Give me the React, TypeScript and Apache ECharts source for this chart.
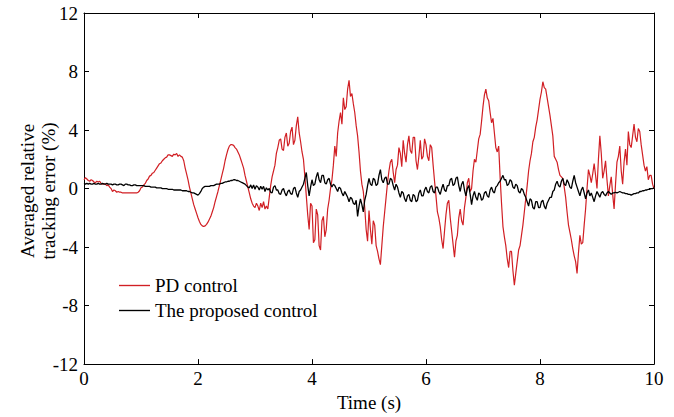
import React, { useEffect, useRef } from "react";
import * as echarts from "echarts";

const DT = 0.025;
const X_TICKS = [0, 2, 4, 6, 8, 10];
const Y_TICKS = [-12, -8, -4, 0, 4, 8, 12];
const SERIES_NAMES = ["PD control", "The proposed control"];

// PD control, read every 0.025 s from t = 0 to t = 10 (one row = 0.25 s)
const pdControl = [
  0.6, 0.75, 0.65, 0.55, 0.5, 0.6, 0.55, 0.45, 0.4, 0.5,
  0.45, 0.5, 0.35, 0.3, 0.35, 0.3, 0.2, 0.25, 0.1, 0.0,
  -0.2, -0.1, -0.15, -0.25, -0.2, -0.25, -0.25, -0.3, -0.3, -0.3,
  -0.3, -0.3, -0.3, -0.3, -0.3, -0.3, -0.3, -0.3, -0.25, -0.15,
  0.05, 0.1, 0.25, 0.35, 0.55, 0.65, 0.85, 0.9, 1.05, 1.1,
  1.25, 1.4, 1.55, 1.7, 1.75, 1.9, 2.0, 2.1, 2.15, 2.3,
  2.3, 2.25, 2.2, 2.35, 2.3, 2.4, 2.2, 2.3, 2.2, 2.15,
  1.9, 1.4, 1.0, 0.6, 0.1, -0.3, -0.7, -1.1, -1.4, -1.7,
  -2.0, -2.25, -2.45, -2.55, -2.6, -2.55, -2.45, -2.3, -2.1, -1.9,
  -1.6, -1.3, -0.9, -0.55, -0.2, 0.2, 0.6, 1.0, 1.4, 1.9,
  2.3, 2.65, 2.9, 3.0, 3.0, 2.95, 2.8, 2.7, 2.5, 2.3,
  2.0, 1.7, 1.4, 0.9, 0.5, 0.1, -0.3, -0.7, -1.0, -1.2,
  -1.3, -1.0, -1.2, -1.5, -1.0, -1.3, -0.9, -1.4, -1.2, -1.4,
  -0.6, 0.2, 0.8, 1.2, 1.6, 2.4, 2.8, 3.3, 3.4, 2.7,
  2.6, 3.5, 3.8, 2.9, 3.1, 3.9, 4.2, 3.0, 3.3, 4.3,
  4.9, 3.8, 3.2, 2.5, 2.0, 0.8, -0.5, -1.8, -2.8, -1.0,
  -1.2, -3.7, -3.5, -1.4, -1.8, -3.9, -4.2, -2.2, -1.9, -3.3,
  -2.8, -1.4, -0.8, 0.0, 0.6, 1.6, 2.9, 2.2, 3.8, 4.6,
  5.2, 4.4, 6.2, 5.4, 5.6, 6.8, 7.4, 6.3, 6.5, 5.8,
  5.2, 4.3, 3.6, 2.5, 1.2, 0.3, -0.2, -1.3, -2.8, -3.6,
  -1.5, -2.8, -3.8, -2.2, -2.5, -3.9, -4.3, -4.8, -5.2, -3.9,
  -2.6, -1.6, -0.6, 0.4, 1.2, 1.8, 2.0, 1.1, 0.4, 1.3,
  1.6, 2.8, 2.4, 1.5, 3.3, 2.4, 1.8, 3.0, 3.6, 2.6,
  2.4, 3.5, 3.5, 1.9, 1.3, 2.2, 3.3, 2.0, 2.2, 3.4,
  3.0, 2.2, 1.9, 3.0, 2.8, 1.6, 0.5, -0.5, -1.6, -2.0,
  -2.6, -3.5, -4.1, -2.9, -1.8, -1.0, -0.8, -2.0, -2.9, -3.8,
  -4.7, -3.6, -3.2, -2.0, -1.4, -2.2, -2.5, -1.3, -0.6, 0.4,
  0.7, -0.2, 0.0, 1.2, 2.0, 1.8, 2.6, 3.4, 3.7, 4.6,
  5.6, 6.4, 6.8, 6.2, 6.0, 5.2, 4.5, 4.8, 3.8, 2.8,
  2.5, 2.9, 0.8, -1.0, -2.6, -3.3, -3.9, -4.8, -5.4, -4.3,
  -4.3, -5.6, -6.6, -5.8, -5.0, -4.2, -3.9, -3.2, -2.5, -1.6,
  -0.7, 0.2, 1.2, 1.9, 2.4, 3.2, 3.5, 4.2, 4.7, 5.4,
  6.1, 6.6, 7.3, 6.9, 6.8, 6.2, 5.6, 5.0, 4.3, 3.6,
  2.2, 2.0, 1.8, 1.3, 0.9, 0.8, 0.7, 0.1, -0.6, -1.6,
  -2.5, -3.0, -3.5, -4.1, -4.6, -5.0, -5.8, -4.4, -3.2, -3.8,
  -3.7, -2.5, -1.4, 0.0, 1.3, 0.9, 0.4, 1.0, 1.7, 0.9,
  0.0, 2.0, 3.6, 2.4, 0.7, 1.2, 1.9, 0.6, -0.5, 0.2,
  0.8, -0.4, -1.4, 0.3, 1.8, 2.2, 2.9, 1.2, 0.3, 1.8,
  2.7, 1.6, 3.9, 3.0, 2.8, 3.6, 4.4, 3.5, 3.2, 4.1,
  3.9, 3.0, 2.3, 1.6, 1.2, 1.5, 0.6, 0.9, 0.9, 0.3,
  0.0,
];

// The proposed control, read every 0.025 s from t = 0 to t = 10 (one row = 0.25 s)
const proposedControl = [
  0.35, 0.3, 0.35, 0.3, 0.35, 0.3, 0.3, 0.35, 0.3, 0.3,
  0.35, 0.3, 0.3, 0.35, 0.3, 0.3, 0.35, 0.3, 0.3, 0.3,
  0.25, 0.3, 0.3, 0.25, 0.25, 0.3, 0.3, 0.25, 0.2, 0.3,
  0.3, 0.25, 0.25, 0.2, 0.2, 0.25, 0.25, 0.2, 0.2, 0.2,
  0.2, 0.2, 0.2, 0.15, 0.15, 0.15, 0.15, 0.1, 0.1, 0.1,
  0.1, 0.05, 0.05, 0.05, 0.05, 0.0, 0.0, 0.0, 0.0, -0.05,
  -0.05, -0.05, -0.05, -0.1, -0.1, -0.1, -0.1, -0.1, -0.1, -0.15,
  -0.15, -0.15, -0.15, -0.2, -0.2, -0.25, -0.3, -0.3, -0.35, -0.4,
  -0.45, -0.35, -0.2, 0.0, 0.1, 0.15, 0.15, 0.15, 0.15, 0.2,
  0.2, 0.2, 0.25, 0.3, 0.3, 0.3, 0.35, 0.35, 0.4, 0.45,
  0.45, 0.5, 0.5, 0.55, 0.55, 0.6, 0.6, 0.55, 0.55, 0.5,
  0.45, 0.4, 0.35, 0.3, 0.2, 0.1, 0.05, 0.25, 0.0, 0.25,
  -0.05, 0.2, 0.1, -0.1, 0.15, -0.05, 0.15, -0.2, 0.05, -0.1,
  0.0, -0.25, -0.3, 0.1, 0.2, -0.1, -0.1, -0.35, -0.4, -0.1,
  0.0, -0.3, -0.5, -0.2, -0.1, -0.35, -0.4, 0.0, 0.1, -0.3,
  -0.6, -0.2, -0.1, 0.1, 0.3, 0.7, 1.1, 0.2, -0.5, 0.1,
  0.6, 0.2, 0.3, 0.8, 1.1, 0.6, 0.4, 0.9, 0.9, 0.4,
  0.3, 0.6, 0.7, 0.3, 0.1, 0.3, 0.2, 0.0, -0.2, 0.1,
  0.0, -0.3, -0.5, -0.2, -0.4, -0.6, -0.9, -0.6, -0.7, -1.0,
  -1.1, -0.8, -1.9, -1.2, -0.7, -1.1, -1.6, -0.8, -0.4, 0.2,
  0.7, 0.3, 0.2, 0.7, 0.6, 0.2, 0.3, 0.9, 1.3, 0.6,
  0.4, 0.7, 0.8, 0.3, 0.3, 0.7, 0.6, 0.2, -0.1, 0.3,
  0.1, -0.3, -0.6, -0.2, -0.3, -0.7, -0.9, -0.5, -0.4, -0.8,
  -0.9, -0.4, -0.5, -0.9, -0.8, -0.3, -0.1, -0.5, -0.5, -0.1,
  0.1, -0.2, -0.3, 0.1, 0.2, -0.2, -0.3, 0.1, 0.1, -0.2,
  -0.4, 0.0, 0.3, -0.1, -0.2, 0.2, 0.2, 0.6, 0.7, 0.2,
  0.3, 0.7, 0.8, 0.2, -0.2, 0.3, 0.5, -0.1, -0.5, 0.0,
  0.2, -0.4, -1.1, -0.5, -0.2, -0.6, -0.8, -0.3, -0.4, -0.8,
  -0.7, -0.3, -0.2, -0.5, -0.6, -0.1, 0.1, -0.2, -0.3, 0.1,
  0.2, 0.4, 0.5, 0.7, 0.9, 0.6, 0.6, 0.2, 0.3, 0.6,
  0.5, 0.1, 0.0, 0.3, 0.2, -0.2, -0.3, 0.0, -0.1, -0.4,
  -0.6, -0.9, -1.2, -0.7, -0.8, -1.3, -1.4, -0.9, -0.9, -1.3,
  -1.3, -0.9, -0.8, -1.2, -1.4, -1.0, -0.8, -0.6, -0.6, -0.2,
  -0.1, 0.3, 0.5, 0.2, 0.1, 0.5, 0.7, 0.3, 0.2, 0.6,
  0.4, 0.1, 0.0, 0.5, 0.9, 0.4, 0.1, -0.2, -0.5, -0.1,
  0.1, -0.3, -0.7, -0.3, -0.1, -0.5, -0.3, -0.6, -0.9, -0.5,
  -0.2, -0.4, -0.6, -0.3, -0.2, -0.4, -0.5, -0.3, -0.2, -0.3,
  -0.4, -0.3, -0.3, -0.25, -0.3, -0.25, -0.2, -0.25, -0.3, -0.3,
  -0.35, -0.35, -0.4, -0.4, -0.45, -0.4, -0.35, -0.35, -0.3, -0.3,
  -0.2, -0.2, -0.15, -0.15, -0.1, -0.1, -0.05, -0.05, 0.0, 0.0,
  0.05,
];

const FONT = "Liberation Serif";
const FONT_SIZE = 19;
const RED = "#d11f24";

export default function App() {
  const ref = useRef<HTMLDivElement>(null);
  useEffect(() => {
    if (!ref.current) return;
    const chart = echarts.init(ref.current, undefined, { renderer: "svg" });
    const toPairs = (arr: number[]) => arr.map((v, i) => [+(i * DT).toFixed(3), v]);
    const axisCommon = {
      axisLine: { show: true, onZero: false, lineStyle: { color: "#000", width: 1 } },
      axisTick: { show: true, inside: true, length: 5, lineStyle: { color: "#000" } },
      splitLine: { show: false },
    };
    const labelStyle = { fontFamily: FONT, fontSize: FONT_SIZE, color: "#000" };
    chart.setOption({
      animation: false,
      backgroundColor: "#fff",
      textStyle: { fontFamily: FONT },
      grid: { left: 84, right: 20, top: 13, bottom: 50, containLabel: false },
      legend: {
        data: SERIES_NAMES.map((name) => ({ name, icon: "path://M0,0 L32,0 L32,1.4 L0,1.4 Z" })),
        orient: "vertical",
        left: 119,
        top: 276,
        padding: 0,
        itemWidth: 31,
        itemHeight: 19,
        itemGap: 6,
        itemStyle: { borderWidth: 0 },
        textStyle: { ...labelStyle },
      },
      xAxis: [
        {
          type: "value",
          min: X_TICKS[0],
          max: X_TICKS[X_TICKS.length - 1],
          interval: 2,
          ...axisCommon,
          axisLabel: { ...labelStyle, margin: 5 },
          name: "Time (s)",
          nameLocation: "middle",
          nameGap: 25,
          nameTextStyle: { ...labelStyle },
        },
        {
          type: "value",
          position: "top",
          min: X_TICKS[0],
          max: X_TICKS[X_TICKS.length - 1],
          interval: 2,
          ...axisCommon,
          axisLabel: { show: false },
        },
      ],
      yAxis: [
        {
          type: "value",
          position: "left",
          min: Y_TICKS[0],
          max: Y_TICKS[Y_TICKS.length - 1],
          interval: 4,
          ...axisCommon,
          axisLabel: { ...labelStyle, margin: 6 },
        },
        {
          type: "value",
          position: "right",
          min: Y_TICKS[0],
          max: Y_TICKS[Y_TICKS.length - 1],
          interval: 4,
          ...axisCommon,
          axisLabel: { show: false },
        },
      ],
      graphic: [
        {
          type: "text",
          x: 38,
          y: 191,
          rotation: Math.PI / 2,
          style: {
            text: "Averaged relative\ntracking error (%)",
            fontFamily: FONT,
            fontSize: FONT_SIZE,
            lineHeight: 21,
            fill: "#000",
            align: "center",
            verticalAlign: "middle",
          },
        },
      ],
      series: [
        {
          name: SERIES_NAMES[0],
          type: "line",
          data: toPairs(pdControl),
          symbol: "none",
          lineStyle: { color: RED, width: 1.2 },
          itemStyle: { color: RED },
          z: 2,
        },
        {
          name: SERIES_NAMES[1],
          type: "line",
          data: toPairs(proposedControl),
          symbol: "none",
          lineStyle: { color: "#000", width: 1.3 },
          itemStyle: { color: "#000" },
          z: 3,
        },
      ],
    });
    return () => chart.dispose();
  }, []);
  return <div ref={ref} style={{ width: 674, height: 417, position: "absolute", left: 0, top: 0 }} />;
}
